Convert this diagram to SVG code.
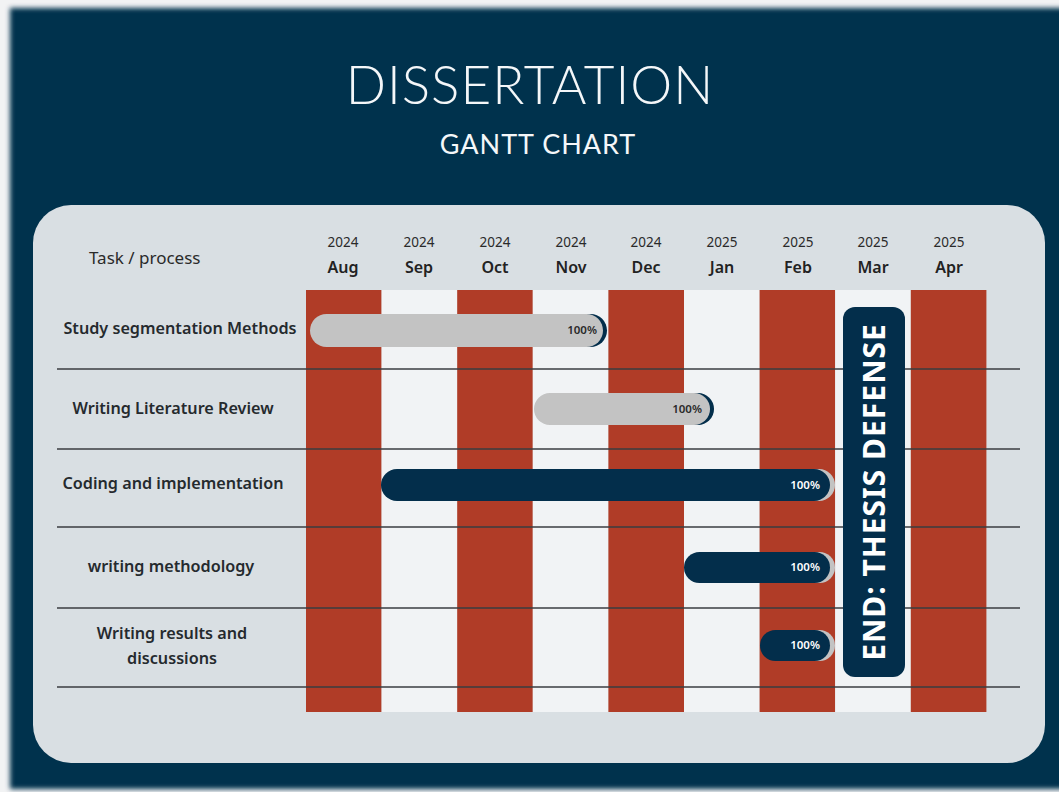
<svg xmlns="http://www.w3.org/2000/svg" width="1059" height="792" viewBox="0 0 1059 792">
  <defs>
    <filter id="soft" x="-5%" y="-5%" width="110%" height="110%">
      <feGaussianBlur stdDeviation="2.5"/>
    </filter>
    <style>
      .title { font-family: "Lato", "Noto Sans", sans-serif; fill: #f4f7f9; text-anchor: middle; }
      .year { font-family: "Noto Sans", "Lato", sans-serif; font-size: 13.5px; fill: #2a2a2a; text-anchor: middle; }
      .month { font-family: "Noto Sans", "Lato", sans-serif; font-size: 16px; font-weight: 600; fill: #222; text-anchor: middle; }
      .task { font-family: "Noto Sans", "Lato", sans-serif; font-size: 16.2px; font-weight: 600; fill: #252a2e; text-anchor: middle; }
      .red { fill: #b03c27; }
      .pale { fill: #f1f3f5; }
      .row { stroke: #3a3d40; stroke-width: 1.4; }
      .navy { fill: #032e4b; }
      .grey { fill: #c3c3c3; }
      .pct { font-family: "Noto Sans", "Lato", sans-serif; font-size: 11.5px; font-weight: 600; text-anchor: end; }
    </style>
  </defs>

  <!-- page background and card -->
  <rect x="0" y="0" width="1059" height="792" fill="#f2f3f4"/>
  <rect x="10" y="8" width="1070" height="781" fill="#04304d" filter="url(#soft)"/>

  <!-- heading -->
  <text class="title" x="530" y="104" font-size="53" font-weight="300" letter-spacing="1">DISSERTATION</text>
  <text class="title" x="538" y="154" font-size="27" letter-spacing="1">GANTT CHART</text>

  <!-- chart panel -->
  <rect x="33" y="205" width="1012" height="558" rx="38" fill="#d9dfe3"/>

  <!-- month columns -->
  <g id="columns">
    <rect class="red" x="306" y="290" width="75.6" height="422"/>
    <rect class="pale" x="381.6" y="290" width="75.6" height="422"/>
    <rect class="red" x="457.2" y="290" width="75.6" height="422"/>
    <rect class="pale" x="532.8" y="290" width="75.6" height="422"/>
    <rect class="red" x="608.4" y="290" width="75.6" height="422"/>
    <rect class="pale" x="684" y="290" width="75.6" height="422"/>
    <rect class="red" x="759.6" y="290" width="75.6" height="422"/>
    <rect class="pale" x="835.2" y="290" width="75.6" height="422"/>
    <rect class="red" x="910.8" y="290" width="75.6" height="422"/>
  </g>

  <!-- column headings -->
  <g id="header">
    <text x="89" y="264" font-family="'Noto Sans', Lato, sans-serif" font-size="17" fill="#2a2a2a">Task / process</text>
    <text class="year" x="343" y="247">2024</text><text class="month" x="343" y="273">Aug</text>
    <text class="year" x="419" y="247">2024</text><text class="month" x="419" y="273">Sep</text>
    <text class="year" x="495" y="247">2024</text><text class="month" x="495" y="273">Oct</text>
    <text class="year" x="571" y="247">2024</text><text class="month" x="571" y="273">Nov</text>
    <text class="year" x="646" y="247">2024</text><text class="month" x="646" y="273">Dec</text>
    <text class="year" x="722" y="247">2025</text><text class="month" x="722" y="273">Jan</text>
    <text class="year" x="798" y="247">2025</text><text class="month" x="798" y="273">Feb</text>
    <text class="year" x="873" y="247">2025</text><text class="month" x="873" y="273">Mar</text>
    <text class="year" x="949" y="247">2025</text><text class="month" x="949" y="273">Apr</text>
  </g>

  <!-- row separators -->
  <g id="connectors">
    <line class="row" x1="57" y1="369" x2="1020" y2="369"/>
    <line class="row" x1="57" y1="449" x2="1020" y2="449"/>
    <line class="row" x1="57" y1="527" x2="1020" y2="527"/>
    <line class="row" x1="57" y1="608" x2="1020" y2="608"/>
    <line class="row" x1="57" y1="687" x2="1020" y2="687"/>
  </g>

  <!-- task rows -->
  <g id="task-study">
    <text class="task" x="180" y="334">Study segmentation Methods</text>
    <rect class="navy" x="314" y="314" width="293" height="33" rx="16.5"/>
    <rect class="grey" x="310" y="314" width="293" height="33" rx="16.5"/>
    <text class="pct" x="597" y="334" fill="#2a2a2a">100%</text>
  </g>
  <g id="task-literature">
    <text class="task" x="173" y="414">Writing Literature Review</text>
    <rect class="navy" x="538" y="393" width="176" height="32" rx="16"/>
    <rect class="grey" x="534" y="393" width="176" height="32" rx="16"/>
    <text class="pct" x="702" y="413" fill="#2a2a2a">100%</text>
  </g>
  <g id="task-coding">
    <text class="task" x="173" y="489">Coding and implementation</text>
    <rect class="grey" x="386" y="469" width="449" height="32" rx="16"/>
    <rect class="navy" x="381" y="469" width="449" height="32" rx="16"/>
    <text class="pct" x="820" y="489" fill="#ffffff">100%</text>
  </g>
  <g id="task-methodology">
    <text class="task" x="171" y="572">writing methodology</text>
    <rect class="grey" x="689" y="552" width="146" height="31" rx="15.5"/>
    <rect class="navy" x="684" y="552" width="146" height="31" rx="15.5"/>
    <text class="pct" x="820" y="571" fill="#ffffff">100%</text>
  </g>
  <g id="task-results">
    <text class="task" x="172" y="639">Writing results and</text>
    <text class="task" x="172" y="664">discussions</text>
    <rect class="grey" x="765" y="630" width="70" height="31" rx="15.5"/>
    <rect class="navy" x="760" y="630" width="70" height="31" rx="15.5"/>
    <text class="pct" x="820" y="649" fill="#ffffff">100%</text>
  </g>

  <!-- final milestone -->
  <g id="milestone-defense">
    <rect class="navy" x="843" y="307" width="62" height="370" rx="12"/>
    <text transform="translate(885 492) rotate(-90)" text-anchor="middle" font-family="'Noto Sans', Lato, sans-serif" font-size="30" font-weight="bold" fill="#ffffff" letter-spacing="1">END: THESIS DEFENSE</text>
  </g>
</svg>
